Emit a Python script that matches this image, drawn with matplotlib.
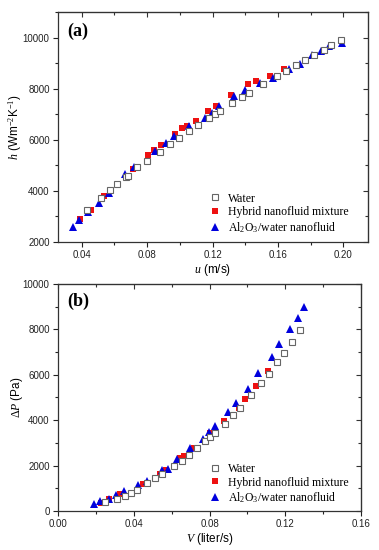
import numpy as np
import matplotlib
matplotlib.use("Agg")
import matplotlib.pyplot as plt
from matplotlib.ticker import MultipleLocator

plt.rcParams['font.family'] = ['Liberation Sans', 'DejaVu Sans']
plt.rcParams['mathtext.fontset'] = 'custom'
plt.rcParams['mathtext.rm'] = 'Liberation Serif'
plt.rcParams['mathtext.it'] = 'Liberation Serif:italic'

# (a) heat transfer coefficient vs velocity
a_water_u = [0.0434, 0.0516, 0.0571, 0.0616, 0.0669, 0.0680, 0.0740, 0.0798, 0.0877, 0.0938,
             0.0997, 0.1056, 0.1113, 0.1177, 0.1215, 0.1246, 0.1319, 0.1380, 0.1425, 0.1511,
             0.1593, 0.1650, 0.1711, 0.1766, 0.1821, 0.1882, 0.1925, 0.1984]
a_water_h = [3268, 3738, 4023, 4270, 4544, 4590, 4924, 5186, 5523, 5824,
             6071, 6333, 6595, 6869, 7026, 7127, 7440, 7675, 7847, 8172,
             8486, 8681, 8943, 9112, 9319, 9530, 9699, 9895]
a_hybrid_u = [0.0391, 0.0455, 0.0535, 0.0716, 0.0806, 0.0840, 0.0883, 0.0969, 0.1015,
              0.1046, 0.1099, 0.1171, 0.1219, 0.1311, 0.1415, 0.1468, 0.1548, 0.1639]
a_hybrid_h = [2916, 3241, 3800, 4873, 5421, 5589, 5785, 6230, 6450,
              6540, 6736, 7143, 7323, 7742, 8172, 8317, 8513, 8787]
a_al2o3_u = [0.0345, 0.0385, 0.0439, 0.0508, 0.0569, 0.0667, 0.0720, 0.0847, 0.0917, 0.0965,
             0.1058, 0.1154, 0.1195, 0.1242, 0.1333, 0.1399, 0.1491, 0.1568, 0.1670, 0.1735,
             0.1807, 0.1864, 0.1914, 0.1990]
a_al2o3_h = [2587, 2877, 3163, 3527, 3918, 4650, 4936, 5562, 5875, 6137,
             6529, 6869, 7049, 7311, 7730, 7937, 8239, 8435, 8771, 8982,
             9307, 9475, 9660, 9789]

# (b) pressure drop vs flow rate
b_water_v = [0.0249, 0.0310, 0.0351, 0.0383, 0.0418, 0.0472, 0.0513, 0.0547, 0.0613, 0.0653,
             0.0690, 0.0734, 0.0774, 0.0804, 0.0826, 0.0879, 0.0923, 0.0958, 0.1018, 0.1072,
             0.1111, 0.1155, 0.1193, 0.1234, 0.1277]
b_water_p = [397, 547, 662, 794, 944, 1252, 1473, 1649, 1985, 2192,
             2456, 2752, 3074, 3237, 3440, 3810, 4220, 4516, 5089, 5618,
             6040, 6544, 6968, 7440, 7969]
b_hybrid_v = [0.0228, 0.0270, 0.0328, 0.0451, 0.0539, 0.0568, 0.0642, 0.0667, 0.0719,
              0.0804, 0.0874, 0.0953, 0.0988, 0.1044, 0.1106]
b_hybrid_p = [370, 529, 767, 1191, 1649, 1795, 2311, 2412, 2778,
              3440, 3969, 4542, 4920, 5505, 6174]
b_al2o3_v = [0.0192, 0.0223, 0.0267, 0.0307, 0.0349, 0.0421, 0.0468, 0.0551, 0.0583, 0.0628,
             0.0698, 0.0763, 0.0798, 0.0826, 0.0895, 0.0939, 0.1001, 0.1058, 0.1128, 0.1168,
             0.1225, 0.1265, 0.1298]
b_al2o3_p = [326, 441, 529, 692, 882, 1133, 1323, 1795, 1870, 2300,
             2752, 3162, 3484, 3749, 4353, 4736, 5375, 6059, 6791, 7351,
             7999, 8511, 8996]

labels = ['Water', 'Hybrid nanofluid mixture', r'Al$_2$O$_3$/water nanofluid']

SERIF = 'Liberation Serif'


def style_axes(ax, xmajor, xminor, ymajor, yminor):
    ax.xaxis.set_major_locator(MultipleLocator(xmajor))
    ax.xaxis.set_minor_locator(MultipleLocator(xminor))
    ax.yaxis.set_major_locator(MultipleLocator(ymajor))
    ax.yaxis.set_minor_locator(MultipleLocator(yminor))
    ax.tick_params(which='both', direction='out', labelsize=7, colors='#222222', pad=2.5)
    ax.tick_params(which='major', length=3.5, width=0.8)
    ax.tick_params(which='minor', length=2, width=0.8)
    for s in ax.spines.values():
        s.set_linewidth(0.9)
        s.set_color('#333333')
    # mirrored ticks pointing inward on top and right
    top = ax.secondary_xaxis('top')
    top.xaxis.set_major_locator(MultipleLocator(xmajor))
    top.xaxis.set_minor_locator(MultipleLocator(xminor))
    top.tick_params(which='both', direction='in', labeltop=False, colors='#333333')
    top.tick_params(which='major', length=3.5, width=0.8)
    top.tick_params(which='minor', length=2, width=0.8)
    right = ax.secondary_yaxis('right')
    right.yaxis.set_major_locator(MultipleLocator(ymajor))
    right.yaxis.set_minor_locator(MultipleLocator(yminor))
    right.tick_params(which='both', direction='in', labelright=False, colors='#333333')
    right.tick_params(which='major', length=3.5, width=0.8)
    right.tick_params(which='minor', length=2, width=0.8)


def draw(ax, xs, ys):
    ax.plot(xs[0], ys[0], 's', ms=5, mfc='white', mec='#666666', mew=0.8,
            ls='none', label=labels[0], zorder=3)
    ax.plot(xs[1], ys[1], 's', ms=5, mfc='#ee1111', mec='#ee1111', mew=0,
            ls='none', label=labels[1], zorder=2)
    ax.plot(xs[2], ys[2], '^', ms=5.5, mfc='#0000dd', mec='#0000dd', mew=0,
            ls='none', label=labels[2], zorder=2)


fig = plt.figure(figsize=(3.79, 5.5), dpi=100)

ax1 = fig.add_axes([0.153, 0.56, 0.818, 0.418])
draw(ax1, [a_water_u, a_hybrid_u, a_al2o3_u], [a_water_h, a_hybrid_h, a_al2o3_h])
ax1.set_xlim(0.0255, 0.215)
ax1.set_ylim(2000, 11000)
style_axes(ax1, 0.04, 0.02, 2000, 1000)
ax1.set_xticks([0.04, 0.08, 0.12, 0.16, 0.20])
ax1.set_xticklabels(['0.04', '0.08', '0.12', '0.16', '0.20'])
ax1.set_xlabel(r'$u$ (m/s)', fontsize=8.5, labelpad=1)
ax1.set_ylabel(r'$h$ (Wm$^{-2}$K$^{-1}$)', fontsize=8.5)
ax1.yaxis.set_label_coords(-0.11, 0.5)
ax1.text(0.03, 0.915, '(a)', transform=ax1.transAxes, fontsize=13,
         fontweight='bold', family=SERIF, va='center')
ax1.legend(loc='upper left', bbox_to_anchor=(0.487, 0.215), frameon=False,
           prop={'family': SERIF, 'size': 8.5}, borderpad=0, borderaxespad=0,
           handlelength=1, handletextpad=0.6, labelspacing=0.15, markerscale=1)

ax2 = fig.add_axes([0.153, 0.071, 0.80, 0.4127])
draw(ax2, [b_water_v, b_hybrid_v, b_al2o3_v], [b_water_p, b_hybrid_p, b_al2o3_p])
ax2.set_xlim(0, 0.16)
ax2.set_ylim(0, 10000)
style_axes(ax2, 0.04, 0.02, 2000, 1000)
ax2.set_xticks([0.0, 0.04, 0.08, 0.12, 0.16])
ax2.set_xticklabels(['0.00', '0.04', '0.08', '0.12', '0.16'])
ax2.set_xlabel(r'$V$ (liter/s)', fontsize=8.5, labelpad=1)
ax2.set_ylabel(r'$\Delta P$ (Pa)', fontsize=8.5)
ax2.yaxis.set_label_coords(-0.11, 0.5)
ax2.text(0.03, 0.925, '(b)', transform=ax2.transAxes, fontsize=13,
         fontweight='bold', family=SERIF, va='center')
ax2.legend(loc='upper left', bbox_to_anchor=(0.498, 0.212), frameon=False,
           prop={'family': SERIF, 'size': 8.5}, borderpad=0, borderaxespad=0,
           handlelength=1, handletextpad=0.6, labelspacing=0.15, markerscale=1)

fig.savefig('out.png', dpi=100)
